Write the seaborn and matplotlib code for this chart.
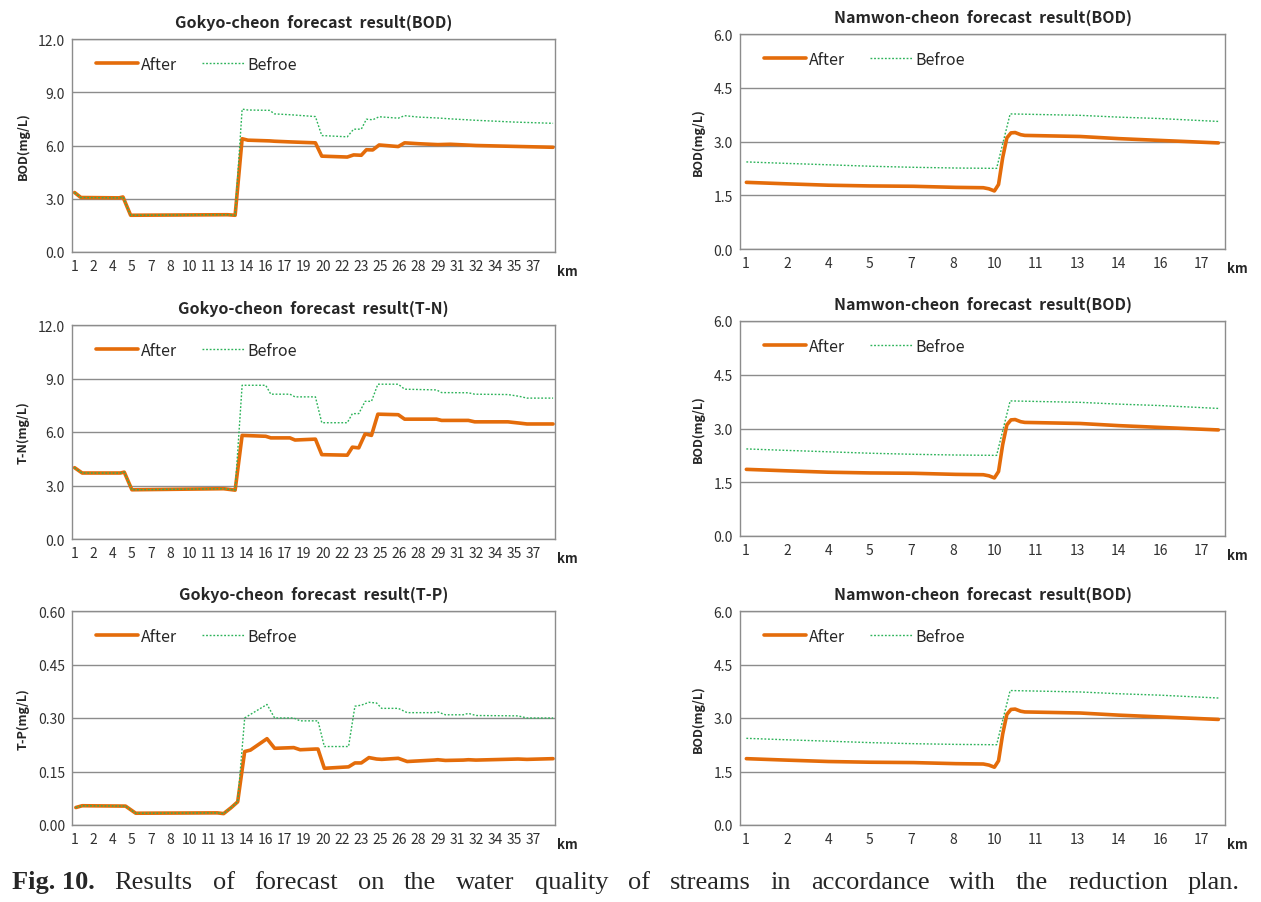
import numpy as np
import pandas as pd
import matplotlib
matplotlib.use('Agg')
import matplotlib.pyplot as plt
import seaborn as sns
from matplotlib.ticker import FormatStrFormatter

# ---------------- data ----------------
gokyo_tick_labels = [1, 2, 4, 5, 7, 8, 10, 11, 13, 14, 16, 17, 19, 20, 22, 23, 25, 26, 28, 29, 31, 32, 34, 35, 37]
namwon_tick_labels = [1, 2, 4, 5, 7, 8, 10, 11, 13, 14, 16, 17]

# Gokyo-cheon BOD
gokyo_bod_km = [1.0, 1.5, 4.5, 4.8, 5.4, 13.0, 13.6, 14.15, 14.6, 16.3, 16.7, 18.0, 19.9, 20.4,
                22.4, 22.9, 23.5, 23.9, 24.4, 24.9, 26.4, 26.9, 28.0, 29.5, 30.5, 32.5, 35.5, 38.55]
gokyo_bod_after = [3.35, 3.07, 3.05, 3.1, 2.07, 2.1, 2.07, 6.38, 6.3, 6.26, 6.24, 6.2, 6.15, 5.4,
                   5.35, 5.47, 5.45, 5.76, 5.75, 6.03, 5.94, 6.15, 6.1, 6.05, 6.07, 6.0, 5.95, 5.9]
gokyo_bod_before = [3.35, 3.07, 3.05, 3.1, 2.07, 2.1, 2.07, 8.05, 8.0, 7.98, 7.78, 7.73, 7.63, 6.56,
                    6.49, 6.92, 6.92, 7.48, 7.45, 7.62, 7.54, 7.68, 7.6, 7.55, 7.5, 7.42, 7.32, 7.25]

# Gokyo-cheon T-N
gokyo_tn_km = [1.0, 1.6, 4.6, 4.9, 5.5, 12.7, 13.6, 14.15, 16.0, 16.4, 17.9, 18.3, 19.9, 20.4, 22.4,
               22.8, 23.3, 23.8, 24.3, 24.8, 26.4, 26.9, 29.4, 29.8, 31.9, 32.4, 35.0, 35.9, 36.5, 38.55]
gokyo_tn_after = [4.0, 3.7, 3.7, 3.75, 2.76, 2.82, 2.74, 5.81, 5.76, 5.67, 5.67, 5.55, 5.6, 4.73, 4.7,
                  5.15, 5.11, 5.89, 5.81, 7.0, 6.97, 6.72, 6.72, 6.65, 6.65, 6.57, 6.57, 6.5, 6.45, 6.45]
gokyo_tn_before = [4.0, 3.7, 3.7, 3.75, 2.76, 2.82, 2.74, 8.62, 8.62, 8.12, 8.12, 7.97, 7.97, 6.52, 6.52,
                   7.03, 7.03, 7.72, 7.72, 8.68, 8.68, 8.4, 8.36, 8.21, 8.2, 8.12, 8.1, 8.0, 7.9, 7.9]

# Gokyo-cheon T-P
gokyo_tp_km = [1.1, 1.6, 5.0, 5.8, 12.2, 12.7, 13.3, 13.8, 14.35, 14.8, 16.1, 16.7, 18.2, 18.7, 19.9,
               20.1, 20.6, 22.5, 23.0, 23.5, 24.1, 24.7, 25.1, 26.4, 27.1, 29.2, 29.5, 30.1, 31.5,
               31.9, 32.5, 35.8, 36.5, 38.55]
gokyo_tp_after = [0.049, 0.054, 0.053, 0.033, 0.034, 0.032, 0.049, 0.065, 0.206, 0.21, 0.242, 0.215,
                  0.217, 0.211, 0.213, 0.213, 0.159, 0.163, 0.174, 0.174, 0.189, 0.185, 0.184, 0.187,
                  0.178, 0.182, 0.183, 0.181, 0.182, 0.183, 0.182, 0.185, 0.184, 0.186]
gokyo_tp_before = [0.049, 0.054, 0.053, 0.033, 0.034, 0.032, 0.049, 0.065, 0.30, 0.31, 0.338, 0.30,
                   0.30, 0.292, 0.292, 0.292, 0.22, 0.22, 0.333, 0.336, 0.344, 0.342, 0.327, 0.327,
                   0.315, 0.315, 0.317, 0.309, 0.309, 0.313, 0.307, 0.306, 0.30, 0.30]

# Namwon-cheon BOD
namwon_after_km = [1.03, 2.45, 4.0, 5.5, 7.07, 8.6, 9.6, 9.8, 10.0, 10.15, 10.3, 10.45, 10.6, 10.75,
                   10.95, 11.1, 13.1, 14.5, 16.0, 18.1]
namwon_after = [1.86, 1.82, 1.78, 1.76, 1.75, 1.72, 1.71, 1.68, 1.62, 1.8, 2.55, 3.1, 3.24, 3.25,
                3.19, 3.17, 3.14, 3.08, 3.03, 2.96]
namwon_before_km = [1.03, 2.45, 4.0, 5.5, 7.07, 8.6, 10.08, 10.57, 13.1, 14.5, 16.0, 18.1]
namwon_before = [2.43, 2.39, 2.35, 2.31, 2.28, 2.26, 2.25, 3.77, 3.73, 3.68, 3.64, 3.56]

ORANGE = '#E46C0A'
GREEN = '#2DB35A'
GRID = '#8C8C8C'

sns.set_theme(style='white')
plt.rcParams['font.family'] = ['Noto Sans CJK KR', 'DejaVu Sans']

W, H = 1261, 903
fig = plt.figure(figsize=(W / 100, H / 100), dpi=100)


def px_axes(left, top, right, bottom):
    return fig.add_axes([left / W, 1 - bottom / H, (right - left) / W, (bottom - top) / H])


def draw_panel(ax, title, ylabel, km_a, after, km_b, before, ymax, fmt, labels, xlim):
    sns.lineplot(x=km_a, y=after, ax=ax, color=ORANGE, lw=2.6, label='After',
                 estimator=None, sort=False)
    sns.lineplot(x=km_b, y=before, ax=ax, color=GREEN, lw=1.0, linestyle=(0, (1.3, 1.3)),
                 label='Befroe', estimator=None, sort=False)
    ax.set_xlim(*xlim)
    ax.set_ylim(0, ymax)
    ax.set_yticks(np.linspace(0, ymax, 5))
    ax.yaxis.set_major_formatter(FormatStrFormatter(fmt))
    ticks = [1 + 1.5 * i for i in range(len(labels))]
    ax.set_xticks(ticks)
    ax.set_xticklabels([str(v) for v in labels])
    ax.tick_params(length=0, labelsize=10, labelcolor='#303030', pad=5)
    ax.yaxis.grid(True, color=GRID, lw=1.0)
    ax.xaxis.grid(False)
    for s in ax.spines.values():
        s.set_color(GRID)
        s.set_linewidth(1.0)
    ax.set_title(title, fontsize=11.5, fontweight='bold', pad=9)
    ax.set_ylabel(ylabel, fontsize=9, fontweight='bold', labelpad=6)
    ax.set_xlabel('')
    ax.text(1.005, -0.09, 'km', transform=ax.transAxes, fontsize=9.5, fontweight='bold',
            ha='left', va='center')
    ax.legend(loc='upper left', bbox_to_anchor=(0.02, 0.99), ncol=2, frameon=False,
              fontsize=11.5, handlelength=2.6, handletextpad=0.2, columnspacing=1.6)


gx = (0.8, 38.7)
nx = (0.8, 18.34)

ax1 = px_axes(72, 40, 555, 253)
draw_panel(ax1, 'Gokyo-cheon  forecast  result(BOD)', 'BOD(mg/L)', gokyo_bod_km, gokyo_bod_after,
           gokyo_bod_km, gokyo_bod_before, 12.0, '%.1f', gokyo_tick_labels, gx)
ax3 = px_axes(72, 326, 555, 540)
draw_panel(ax3, 'Gokyo-cheon  forecast  result(T-N)', 'T-N(mg/L)', gokyo_tn_km, gokyo_tn_after,
           gokyo_tn_km, gokyo_tn_before, 12.0, '%.1f', gokyo_tick_labels, gx)
ax5 = px_axes(72, 612, 555, 826)
draw_panel(ax5, 'Gokyo-cheon  forecast  result(T-P)', 'T-P(mg/L)', gokyo_tp_km, gokyo_tp_after,
           gokyo_tp_km, gokyo_tp_before, 0.60, '%.2f', gokyo_tick_labels, gx)

for top, bottom in [(35, 250), (322, 537), (612, 826)]:
    ax = px_axes(740, top, 1225, bottom)
    draw_panel(ax, 'Namwon-cheon  forecast  result(BOD)', 'BOD(mg/L)', namwon_after_km, namwon_after,
               namwon_before_km, namwon_before, 6.0, '%.1f', namwon_tick_labels, nx)

# caption, justified across the page like in the paper
caption_bold = 'Fig. 10.'
caption_words = 'Results of forecast on the water quality of streams in accordance with the reduction plan.'.split()
cap_y = 1 - 883 / H
fig.canvas.draw()
renderer = fig.canvas.get_renderer()
pieces = [fig.text(0, cap_y, caption_bold, fontsize=19, fontweight='bold',
                   family='Liberation Serif', va='center')]
for w in caption_words:
    pieces.append(fig.text(0, cap_y, w, fontsize=19, family='Liberation Serif', va='center'))
widths = [p.get_window_extent(renderer).width for p in pieces]
x0, x1 = 12, 1240
gap = (x1 - x0 - sum(widths)) / (len(pieces) - 1)
x = x0
for p, wd in zip(pieces, widths):
    p.set_x(x / W)
    x += wd + gap

fig.savefig('out.png', dpi=100)
